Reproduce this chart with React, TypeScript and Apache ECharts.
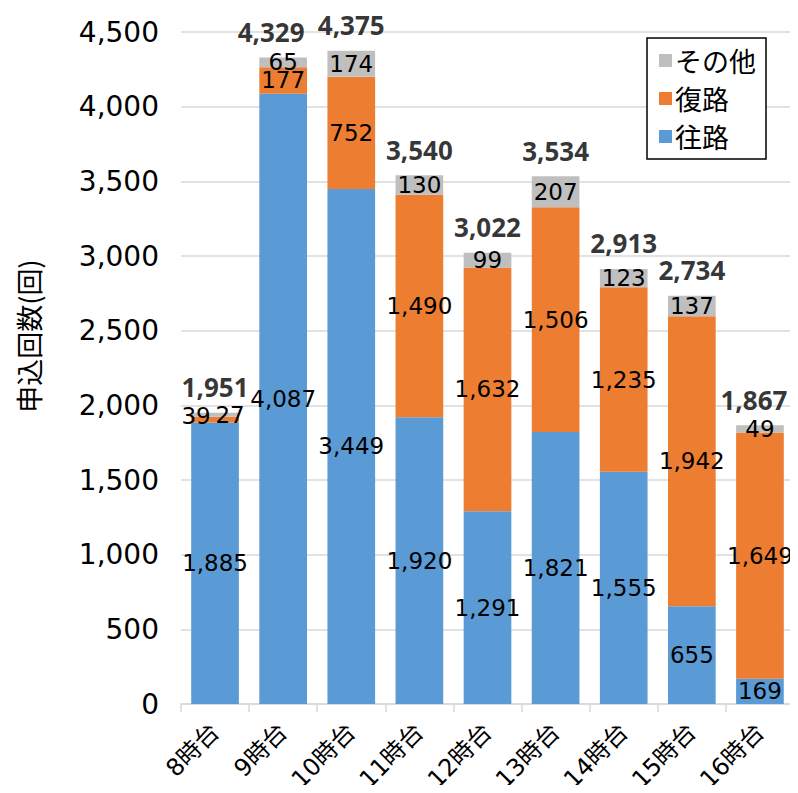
import React, { useEffect, useRef } from "react";
import * as echarts from "echarts";

const categories = ["8時台", "9時台", "10時台", "11時台", "12時台", "13時台", "14時台", "15時台", "16時台"];
const ouro = [1885, 4087, 3449, 1920, 1291, 1821, 1555, 655, 169];
const fukuro = [39, 177, 752, 1490, 1632, 1506, 1235, 1942, 1649];
const sonota = [27, 65, 174, 130, 99, 207, 123, 137, 49];
const totals = [1951, 4329, 4375, 3540, 3022, 3534, 2913, 2734, 1867];
const yTicks = { min: 0, max: 4500, interval: 500 };

const FONT = "'DejaVu Sans', 'Noto Sans CJK JP', sans-serif";
const fmt = (v: number) => v.toLocaleString("en-US");

export default function App() {
  const ref = useRef<HTMLDivElement>(null);
  useEffect(() => {
    if (!ref.current) return;
    const chart = echarts.init(ref.current, null, { renderer: "svg" });
    const segLabel = {
      show: true,
      position: "inside",
      color: "#000",
      fontSize: 23,
      fontFamily: FONT,
      formatter: (p: any) => fmt(p.value),
    };
    const totalOffsets: Record<number, number[]> = { 1: [-12, 0], 8: [-6, 0] };
    chart.setOption({
      animation: false,
      backgroundColor: "#fff",
      textStyle: { fontFamily: FONT },
      grid: { left: 181, right: 4, top: 32, bottom: 89, containLabel: false, outerBoundsMode: "none" },
      legend: {
        data: ["その他", "復路", "往路"],
        orient: "vertical",
        left: 647,
        top: 38,
        itemWidth: 13,
        itemHeight: 13,
        itemGap: 11,
        icon: "rect",
        padding: [9, 10, 9, 12],
        borderColor: "#000",
        borderWidth: 1.5,
        backgroundColor: "#fff",
        textStyle: { fontSize: 27, color: "#000", fontFamily: "'Noto Sans CJK JP', sans-serif", padding: [0, 0, 0, -2] },
      },
      xAxis: {
        type: "category",
        data: categories,
        axisLine: { lineStyle: { color: "#D9D9D9", width: 1.5 } },
        axisTick: { show: true, length: 8, lineStyle: { color: "#D9D9D9", width: 1.5 } },
        axisLabel: {
          rotate: 45,
          fontSize: 24,
          color: "#000",
          margin: 24,
          fontFamily: FONT,
        },
      },
      yAxis: {
        type: "value",
        min: yTicks.min,
        max: yTicks.max,
        interval: yTicks.interval,
        axisLine: { show: false },
        axisTick: { show: false },
        splitLine: { lineStyle: { color: "#D9D9D9", width: 1.5 } },
        axisLabel: { fontSize: 28, color: "#000", margin: 22, fontFamily: FONT, formatter: (v: number) => fmt(v) },
      },
      graphic: [
        {
          type: "text",
          x: 28,
          y: 336,
          rotation: Math.PI / 2,
          style: {
            text: "申込回数(回)",
            fontSize: 27,
            fill: "#000",
            fontFamily: "'Noto Sans CJK JP', sans-serif",
            align: "center",
            verticalAlign: "middle",
          },
        },
      ],
      series: [
        {
          name: "往路",
          type: "bar",
          stack: "total",
          barCategoryGap: "30%",
          itemStyle: { color: "#5B9BD5" },
          label: segLabel,
          data: ouro,
        },
        {
          name: "復路",
          type: "bar",
          stack: "total",
          itemStyle: { color: "#ED7D31" },
          label: segLabel,
          data: fukuro.map((v, i) => (i === 0 ? { value: v, label: { offset: [-19, -4] } } : v)),
        },
        {
          name: "その他",
          type: "bar",
          stack: "total",
          itemStyle: { color: "#BFBFBF" },
          label: segLabel,
          data: sonota.map((v, i) => (i === 0 ? { value: v, label: { offset: [15, 0] } } : v)),
        },
        {
          name: "合計",
          type: "scatter",
          symbolSize: 1,
          itemStyle: { color: "rgba(0,0,0,0)" },
          label: {
            show: true,
            position: "top",
            distance: 12,
            color: "#000",
            fontSize: 26,
            fontWeight: "bold",
            fontFamily: "'Noto Sans', sans-serif",
            formatter: (p: any) => fmt(p.value),
          },
          data: totals.map((v, i) => (totalOffsets[i] ? { value: v, label: { offset: totalOffsets[i] } } : v)),
        },
      ],
    });
    return () => chart.dispose();
  }, []);
  return <div ref={ref} style={{ width: 798, height: 793, margin: -8 }} />;
}
